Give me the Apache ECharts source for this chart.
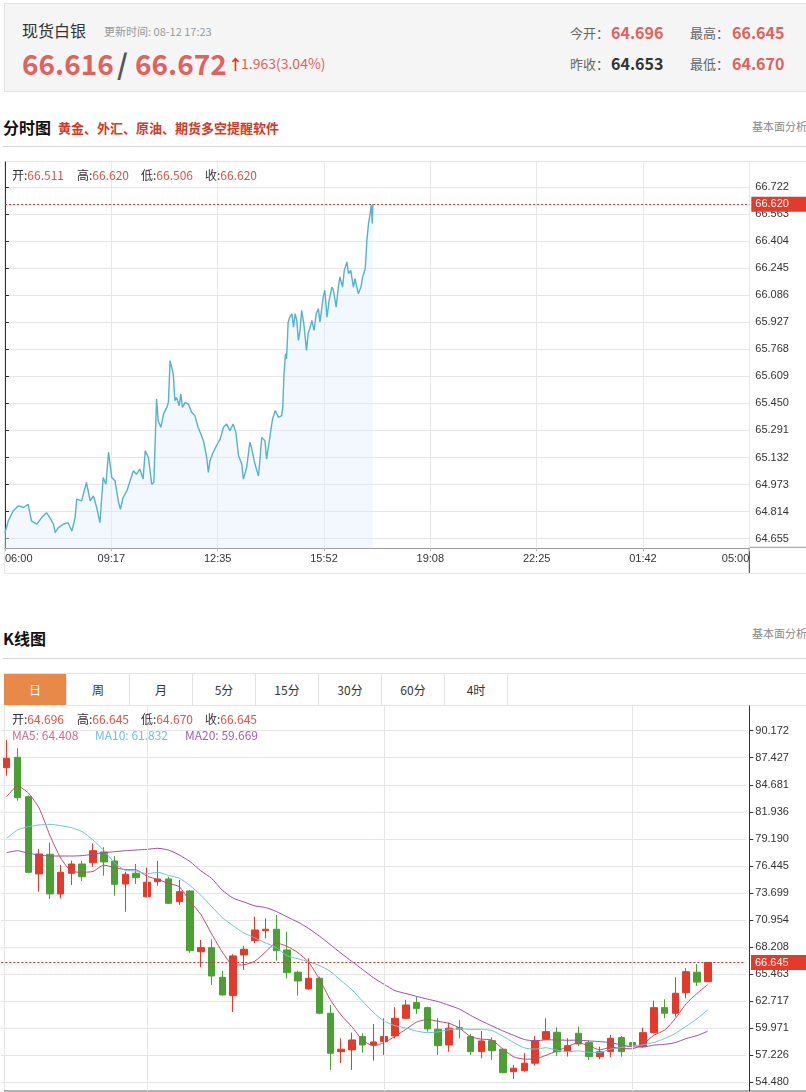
<!DOCTYPE html>
<html><head><meta charset="utf-8">
<script src="https://cdn.jsdelivr.net/npm/echarts@6.0.0/dist/echarts.min.js"></script>
<style>
html,body{margin:0;padding:0;background:#fff;}
body{width:806px;height:1092px;position:relative;overflow:hidden;font-family:"Noto Sans CJK SC","Noto Sans",sans-serif;}
.a{position:absolute;white-space:nowrap;line-height:1;}
.red{color:#e0625c;}
.tab{position:absolute;top:0;height:32px;width:62px;border-right:1px solid #e3e3e3;text-align:center;line-height:32px;font-size:12px;color:#333;}
.lbl{color:#333;} .val{color:#d5574a;}
</style></head><body>
<!-- header -->
<div class="a" style="left:4px;top:3px;width:810px;height:87px;background:#f5f5f5;border:1px solid #e4e4e4;"></div>
<div class="a" style="left:22px;top:22px;font-size:16px;color:#333;">现货白银</div>
<div class="a" style="left:104px;top:25.5px;font-size:11px;color:#999;">更新时间: 08-12 17:23</div>
<div class="a red" style="left:22px;top:49px;font-size:28px;font-weight:bold;">66.616</div>
<div class="a" style="left:117px;top:49px;font-size:28px;font-weight:bold;color:#555;">/</div>
<div class="a red" style="left:135px;top:49px;font-size:28px;font-weight:bold;">66.672</div>
<div class="a" style="left:228px;top:56px;font-size:15px;font-weight:bold;color:#e0392b;">↑</div>
<div class="a red" style="left:241px;top:56px;font-size:14px;">1.963(3.04%)</div>
<div class="a" style="left:570px;top:25.5px;font-size:13px;color:#666;">今开：</div>
<div class="a red" style="left:611px;top:24px;font-size:16px;font-weight:bold;">64.696</div>
<div class="a" style="left:690px;top:25.5px;font-size:13px;color:#666;">最高：</div>
<div class="a red" style="left:732px;top:24px;font-size:16px;font-weight:bold;">66.645</div>
<div class="a" style="left:570px;top:56.5px;font-size:13px;color:#666;">昨收：</div>
<div class="a" style="left:611px;top:55px;font-size:16px;font-weight:bold;color:#333;">64.653</div>
<div class="a" style="left:690px;top:56.5px;font-size:13px;color:#666;">最低：</div>
<div class="a red" style="left:732px;top:55px;font-size:16px;font-weight:bold;">64.670</div>

<!-- section 1 -->
<div class="a" style="left:3px;top:119px;font-size:16px;font-weight:bold;color:#111;">分时图</div>
<div class="a" style="left:58px;top:120.5px;font-size:13px;font-weight:bold;color:#d23a27;">黄金、外汇、原油、期货多空提醒软件</div>
<div class="a" style="left:752px;top:121px;font-size:11px;color:#888;">基本面分析</div>
<div class="a" style="left:3px;top:146px;width:810px;height:1px;background:#d6d6d6;"></div>
<div class="a" style="left:4px;top:161px;width:810px;height:411px;border:1px solid #e6e6e6;"></div>
<div id="c1" class="a" style="left:0;top:161px;width:806px;height:413px;"></div>
<div class="a" style="left:12px;top:169px;font-size:12px;"><span class="lbl">开:</span><span class="val">66.511</span></div>
<div class="a" style="left:77px;top:169px;font-size:12px;"><span class="lbl">高:</span><span class="val">66.620</span></div>
<div class="a" style="left:141px;top:169px;font-size:12px;"><span class="lbl">低:</span><span class="val">66.506</span></div>
<div class="a" style="left:205px;top:169px;font-size:12px;"><span class="lbl">收:</span><span class="val">66.620</span></div>

<!-- section 2 -->
<div class="a" style="left:3px;top:630px;font-size:16px;font-weight:bold;color:#111;">K线图</div>
<div class="a" style="left:752px;top:628px;font-size:11px;color:#888;">基本面分析</div>
<div class="a" style="left:3px;top:658px;width:810px;height:1px;background:#d6d6d6;"></div>
<div class="a" style="left:4px;top:673px;width:810px;height:32px;border-top:1px solid #e3e3e3;">
  <div class="tab" style="left:0;background:#e8894a;color:#fff;">日</div>
  <div class="tab" style="left:63px;">周</div>
  <div class="tab" style="left:126px;">月</div>
  <div class="tab" style="left:189px;">5分</div>
  <div class="tab" style="left:252px;">15分</div>
  <div class="tab" style="left:315px;">30分</div>
  <div class="tab" style="left:378px;">60分</div>
  <div class="tab" style="left:441px;">4时</div>
</div>
<div class="a" style="left:4px;top:705px;width:810px;height:400px;border:1px solid #e6e6e6;"></div>
<div id="c2" class="a" style="left:0;top:705px;width:806px;height:387px;"></div>
<div class="a" style="left:12px;top:713px;font-size:12px;"><span class="lbl">开:</span><span class="val">64.696</span></div>
<div class="a" style="left:77px;top:713px;font-size:12px;"><span class="lbl">高:</span><span class="val">66.645</span></div>
<div class="a" style="left:141px;top:713px;font-size:12px;"><span class="lbl">低:</span><span class="val">64.670</span></div>
<div class="a" style="left:205px;top:713px;font-size:12px;"><span class="lbl">收:</span><span class="val">66.645</span></div>
<div class="a" style="left:12px;top:729px;font-size:12px;color:#d46a8e;">MA5: 64.408</div>
<div class="a" style="left:95px;top:729px;font-size:12px;color:#6cc2d8;">MA10: 61.832</div>
<div class="a" style="left:185px;top:729px;font-size:12px;color:#a160b3;">MA20: 59.669</div>

<script>
// ---------- intraday data ----------
const timeLabels = ['06:00','09:17','12:35','15:52','19:08','22:25','01:42','05:00'];
const intradayTicks = [64.655,64.814,64.973,65.132,65.291,65.450,65.609,65.768,65.927,66.086,66.245,66.404,66.563,66.722];
const intradayMin = [0,6,15,25,34,43,49,59,68,77,83,90,93,99,108,117,124,130,133,142,151,158,164,170,176,182,187,192,198,204,210,214,219,226,232,238,244,250,256,260,266,272,276,281,284,289,294,300,303,306,309,312,315,318,323,326,329,334,340,346,352,358,362,368,374,377,380,386,392,399,405,411,417,423,428,433,439,442,448,454,457,462,467,470,473,476,482,485,490,496,501,507,513,515,517,520,522,525,528,532,535,538,541,544,547,550,554,559,562,566,569,573,577,581,584,587,590,593,597,601,606,609,614,618,621,626,629,634,637,641,646,649,655,660,663,668,671,674,677,679,681,682];
const intradayPrice = [64.690,64.759,64.818,64.848,64.838,64.857,64.759,64.740,64.779,64.808,64.779,64.740,64.690,64.720,64.740,64.749,64.700,64.779,64.887,64.877,64.985,64.877,64.906,64.838,64.749,65.014,64.975,65.162,65.014,64.995,64.877,64.828,64.897,64.936,64.995,65.054,65.034,65.064,65.005,65.171,65.132,64.975,64.985,65.476,65.348,65.309,65.388,65.426,65.456,65.701,65.711,65.623,65.466,65.485,65.436,65.505,65.426,65.456,65.446,65.397,65.378,65.310,65.279,65.230,65.132,65.044,65.113,65.162,65.201,65.240,65.309,65.329,65.289,65.329,65.279,65.142,65.093,65.005,65.073,65.221,65.191,65.113,65.054,65.024,65.132,65.250,65.230,65.122,65.230,65.358,65.407,65.368,65.378,65.426,65.603,65.741,65.711,65.927,65.956,65.976,65.898,65.976,65.937,65.819,65.878,65.996,65.918,65.760,65.859,65.898,65.937,65.878,65.976,66.006,65.927,65.937,66.074,66.114,65.956,66.055,66.133,66.114,66.015,66.133,66.192,66.133,66.231,66.280,66.212,66.231,66.133,66.183,66.094,66.133,66.192,66.241,66.408,66.506,66.565,66.614,66.506,66.620];

// ---------- daily K data ----------
const kCategories = ['1','2','3','4','5','6','7','8','9','10','11','12','13','14','15','16','17','18','19','20','21','22','23','24','25','26','27','28','29','30','31','32','33','34','35','36','37','38','39','40','41','42','43','44','45','46','47','48','49','50','51','52','53','54','55','56','57','58','59','60','61','62','63','64','65','66','','',''];
const kOpen  = [86.42,87.47,83.47,75.63,77.63,73.60,75.70,76.64,76.77,77.86,76.95,74.61,75.70,73.32,74.85,75.12,72.82,73.90,67.74,68.15,65.14,63.28,67.41,68.86,69.87,70.02,67.91,65.65,63.96,65.04,61.49,57.59,57.77,59.12,58.27,58.61,59.19,60.98,62.57,62.06,59.87,58.27,60.03,59.12,57.59,58.71,57.84,55.56,55.66,56.42,58.85,59.56,57.66,59.46,58.51,57.09,57.59,59.02,58.51,58.10,59.52,62.06,61.49,63.58,65.65,64.696];
const kClose = [87.37,83.37,75.80,77.66,73.60,75.80,76.64,75.35,77.99,76.85,74.58,75.60,75.25,74.79,75.12,72.65,73.83,67.84,68.15,65.27,63.35,67.31,67.98,69.94,70.02,67.84,65.61,64.77,65.04,61.49,57.43,57.84,58.78,58.27,58.57,59.12,60.98,62.33,61.96,59.90,58.20,59.97,59.87,57.59,58.68,57.69,55.46,55.91,56.42,58.71,59.62,57.59,58.20,58.37,57.09,57.59,58.95,57.59,58.20,59.52,62.06,61.49,63.52,65.71,64.653,66.645];
const kLow   = [85.60,83.07,75.70,73.83,73.09,73.16,74.51,74.92,76.37,75.46,73.42,71.80,74.61,73.26,74.44,72.58,72.48,67.64,66.16,64.36,63.28,61.62,65.88,68.59,69.10,66.83,65.04,63.28,63.90,61.39,55.74,56.42,55.74,57.49,56.68,57.26,58.95,60.90,61.42,59.62,57.26,57.59,58.95,57.26,56.92,56.75,55.40,54.82,55.56,56.17,58.78,57.16,57.09,58.17,56.75,56.82,57.02,57.09,56.58,58.03,59.45,60.98,61.15,63.01,64.26,64.670];
const kHigh  = [89.23,88.39,83.60,78.17,78.81,76.54,76.98,76.95,78.74,78.34,77.45,75.86,76.64,76.27,76.95,75.35,75.02,73.99,68.93,69.00,65.81,67.48,68.32,71.29,71.13,71.47,69.77,65.81,67.07,65.20,62.33,58.95,59.52,59.46,60.40,60.98,62.10,62.84,63.17,62.16,60.98,60.54,60.81,59.39,59.69,59.05,57.94,56.24,57.43,59.19,60.98,60.07,58.95,60.13,58.71,58.10,59.29,59.19,58.61,60.03,62.77,62.91,65.14,66.06,66.48,66.645];
const ma5  = [83.47,84.56,83.85,82.33,79.56,77.25,75.90,75.81,75.88,76.53,76.28,76.07,76.05,75.41,75.07,74.68,74.33,72.85,71.52,69.55,67.69,66.38,66.41,66.77,67.72,68.62,68.28,67.64,66.66,64.95,62.87,61.31,60.12,58.76,58.18,58.52,59.14,59.85,60.59,60.86,60.67,60.47,59.98,59.11,58.86,58.76,57.86,57.07,56.83,56.84,57.22,57.65,58.11,58.50,58.17,57.77,58.04,57.92,57.88,58.37,59.26,59.77,60.96,62.46,63.49,64.408];
const ma10 = [79.25,80.09,80.43,80.60,80.67,80.53,80.33,79.92,79.08,78.04,76.76,75.99,75.93,75.65,75.80,75.48,75.20,74.45,73.47,72.31,71.19,70.36,69.63,69.14,68.63,68.15,67.33,67.02,66.71,66.34,65.74,64.80,63.88,62.71,61.56,60.69,60.23,59.99,59.68,59.52,59.60,59.81,59.92,59.85,59.86,59.72,59.17,58.52,57.97,57.85,57.99,57.75,57.59,57.67,57.51,57.50,57.85,58.01,58.19,58.27,58.52,58.91,59.44,60.17,60.93,61.832];
const ma20 = [77.79,77.99,77.73,77.56,77.45,77.45,77.45,77.49,77.63,77.79,77.89,77.99,78.06,78.13,78.23,78.06,77.56,76.88,75.95,75.18,73.97,73.17,72.78,72.39,72.22,71.82,71.27,70.74,70.09,69.32,68.46,67.58,66.75,65.93,65.10,64.42,63.78,63.50,63.20,62.93,62.67,62.30,61.90,61.28,60.71,60.20,59.70,59.25,58.82,58.68,58.79,58.78,58.75,58.76,58.68,58.61,58.51,58.27,58.08,58.06,58.25,58.33,58.51,58.92,59.22,59.669];
const kTicks = [54.480,57.226,59.971,62.717,65.463,68.208,70.954,73.699,76.445,79.190,81.936,84.681,87.427,90.172];
const monthStartIdx = [13,35,58];

const AX_FONT = 'Liberation Sans';
const RED = '#e23b2b', GREEN = '#4c9f35';
const lastIntraday = intradayPrice[intradayPrice.length - 1];
const lastClose = kClose[kClose.length - 1];

// ---------- chart 1: intraday ----------
const c1 = echarts.init(document.getElementById('c1'));
const step = 1380 / 7;
c1.setOption({
  animation: false,
  grid: {left: 5, right: 56.7, top: 1, bottom: 25.7},
  xAxis: {
    type: 'value', min: 0, max: 1380, interval: step,
    axisLine: {show: true, lineStyle: {color: '#999'}},
    axisTick: {show: true, length: 3, lineStyle: {color: '#bbb'}},
    axisLabel: {color: '#333', fontSize: 11, fontFamily: AX_FONT, margin: 5,
      showMinLabel: true, showMaxLabel: true, alignMinLabel: 'left', alignMaxLabel: 'right',
      formatter: v => timeLabels[Math.round(v / step)] || ''},
    splitLine: {show: true, lineStyle: {color: '#e8e8e8'}}
  },
  yAxis: {
    type: 'value', position: 'right', min: 64.5985, max: 66.8675,
    axisLine: {show: true, lineStyle: {color: '#333'}},
    axisTick: {show: true, length: 4, customValues: intradayTicks, lineStyle: {color: '#333'}},
    axisLabel: {customValues: intradayTicks, formatter: v => v.toFixed(3), color: '#333', fontSize: 11, fontFamily: AX_FONT, margin: 6},
    splitLine: {show: true, lineStyle: {color: '#e6e6e6'}}
  },
  series: [{
    type: 'line', symbol: 'none', showSymbol: false,
    data: intradayMin.map((m, i) => [m, intradayPrice[i]]),
    lineStyle: {color: '#55b2cf', width: 1.4},
    areaStyle: {color: 'rgba(222,238,250,0.55)', origin: 'start'},
    markLine: {
      silent: true, symbol: ['none', 'none'], animation: false,
      data: [{yAxis: lastIntraday}],
      lineStyle: {color: '#c9372a', type: [2, 2], width: 1},
      label: {position: 'end', distance: 2, formatter: () => lastIntraday.toFixed(3), color: '#fff',
        backgroundColor: RED, padding: [2, 24, 2, 4], fontSize: 11, fontFamily: AX_FONT}
    }
  }],
  graphic: [
    {type: 'line', shape: {x1: 749.3, y1: 386.3, x2: 806, y2: 386.3}, style: {stroke: '#999', lineWidth: 1}, silent: true},
    {type: 'line', shape: {x1: 749.3, y1: 386.3, x2: 749.3, y2: 412}, style: {stroke: '#333', lineWidth: 1}, silent: true}
  ]
});

// ---------- chart 2: daily K ----------
const c2 = echarts.init(document.getElementById('c2'));
const lineS = (name, data, color) => ({
  name, type: 'line', data, symbol: 'none', showSymbol: false, smooth: 0.2,
  lineStyle: {color, width: 1}, z: 3
});
c2.setOption({
  animation: false,
  grid: {left: 1.3, right: 60.5, top: 1, bottom: 1},
  xAxis: {
    type: 'category', data: kCategories, boundaryGap: true,
    axisLine: {show: false}, axisTick: {show: false}, axisLabel: {show: false}, splitLine: {show: false}
  },
  yAxis: {
    type: 'value', position: 'right', offset: 3.8, min: 53.597, max: 92.679,
    axisLine: {show: true, lineStyle: {color: '#333'}},
    axisTick: {show: true, length: 4, customValues: kTicks, lineStyle: {color: '#333'}},
    axisLabel: {customValues: kTicks, formatter: v => v.toFixed(3), color: '#333', fontSize: 11, fontFamily: AX_FONT, margin: 6},
    splitLine: {show: true, lineStyle: {color: '#e6e6e6'}}
  },
  series: [
    {
      type: 'candlestick', barWidth: 7, z: 2,
      data: kOpen.map((o, i) => [o, kClose[i], kLow[i], kHigh[i]]),
      itemStyle: {color: RED, color0: GREEN, borderColor: RED, borderColor0: GREEN, borderWidth: 1},
      markLine: {
        silent: true, symbol: ['none', 'none'], animation: false,
        data: [
          ...monthStartIdx.map(i => ({xAxis: kCategories[i], lineStyle: {color: '#e6e6e6', type: 'solid', width: 1}, label: {show: false}})),
          {yAxis: lastClose, lineStyle: {color: '#c9372a', type: [2, 2], width: 1},
            label: {show: true, position: 'end', distance: 5.5, formatter: () => lastClose.toFixed(3), color: '#fff',
              backgroundColor: RED, padding: [2, 24, 2, 4], fontSize: 11, fontFamily: AX_FONT}}
        ]
      }
    },
    lineS('MA5', ma5, '#c4476e'),
    lineS('MA10', ma10, '#6cc2d8'),
    lineS('MA20', ma20, '#9a4fa8')
  ],
  graphic: [
    {type: 'line', shape: {x1: 4, y1: 386, x2: 806, y2: 386}, style: {stroke: '#666', lineWidth: 1}, silent: true}
  ]
});
</script>
</body></html>
